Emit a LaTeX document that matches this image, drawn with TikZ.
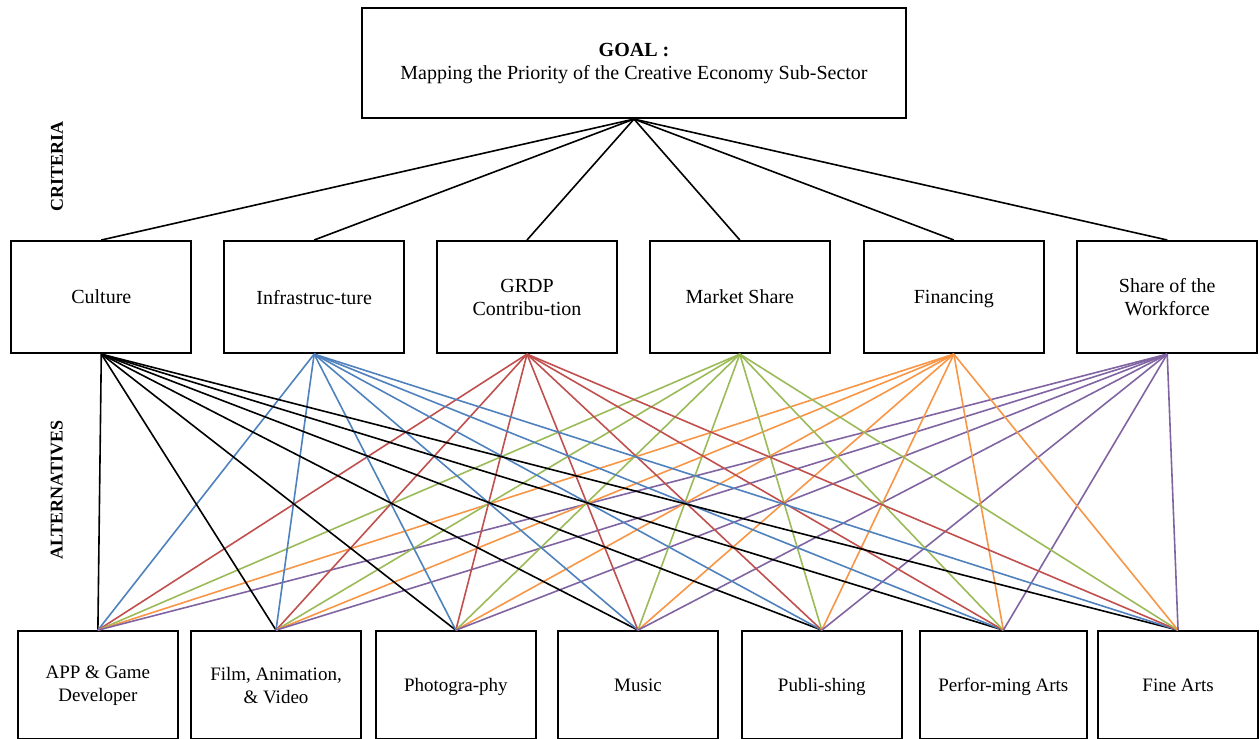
\documentclass[tikz,border=0pt]{standalone}
\usepackage{fontspec}
\setmainfont{Liberation Serif}
\usepackage{tikz}
\usetikzlibrary{positioning}
\usepackage{xcolor}
\definecolor{ahpBlue}{HTML}{4F81BD}
\definecolor{ahpRed}{HTML}{C0504D}
\definecolor{ahpGreen}{HTML}{9BBB59}
\definecolor{ahpOrange}{HTML}{F79646}
\definecolor{ahpPurple}{HTML}{8064A2}
\newcommand{\nodepth}[1]{\raisebox{0pt}[\height][0pt]{#1}}
\tikzset{
    goalbox/.style={rectangle, draw=black, line width=1pt, fill=white, minimum width=9.56cm, minimum height=1.93cm, align=center, font=\rmfamily\fontsize{10}{11.5}\selectfont},
    critbox/.style={rectangle, draw=black, line width=1pt, fill=white, minimum width=3.16cm, minimum height=1.97cm, align=center, font=\rmfamily\fontsize{10}{11.5}\selectfont},
    altbox/.style={rectangle, draw=black, line width=1pt, fill=white, minimum width=2.82cm, minimum height=1.9cm, align=center, font=\rmfamily\fontsize{9.5}{11.5}\selectfont},
    levellabel/.style={rotate=90, font=\rmfamily\fontsize{9}{10}\selectfont\bfseries},
    % connector styles
    link/.style={line width=0.8pt}
}

\begin{document}
\begin{tikzpicture}
    \clip (0,0) rectangle (22.14,-12.97);
    \useasboundingbox (0,0) rectangle (22.14,-12.97);

    % Level labels
    \node[levellabel] at (1.00,-2.93) (crit) {CRITERIA};
    \node[levellabel] at (1.00,-8.61) (alts) {ALTERNATIVES};

    % Goal
    \node[goalbox] at (11.14,-1.11) (goal) {\textbf{GOAL :}\\Mapping the Priority of the Creative Economy Sub-Sector};

    % Criteria
    \node[critbox] at (1.78,-5.22) (culture) {Culture};
    \node[critbox] at (5.52,-5.22) (infra) {Infrastruc-ture};
    \node[critbox] at (9.26,-5.22) (grdp) {GRDP\\Contribu-tion};
    \node[critbox] at (13.00,-5.22) (market) {Market Share};
    \node[critbox] at (16.76,-5.22) (financing) {\nodepth{Financing}};
    \node[critbox] at (20.51,-5.22) (workforce) {Share of the\\Workforce};

    % Alternatives
    \node[altbox] at (1.72,-12.04) (app) {APP \& Game\\Developer};
    \node[altbox, minimum width=3.0cm] at (4.85,-12.04) (film) {Film, Animation,\\\& Video};
    \node[altbox] at (8.01,-12.04) (photo) {\nodepth{Photogra-phy}};
    \node[altbox] at (11.21,-12.04) (music) {Music};
    \node[altbox] at (14.44,-12.04) (publish) {\nodepth{Publi-shing}};
    \node[altbox, minimum width=2.93cm] at (17.63,-12.04) (perform) {\nodepth{Perfor-ming Arts}};
    \node[altbox] at (20.70,-12.04) (fine) {Fine Arts};

    % Goal to criteria
    \foreach \c in {culture,infra,grdp,market,financing,workforce}
        \draw[link, black] (goal.south) -- (\c.north);

    % Criteria to alternatives
    \foreach \a in {app,film,photo,music,publish,perform,fine}{
        \draw[link, black] (culture.south) -- (\a.north);
        \draw[link, ahpBlue] (infra.south) -- (\a.north);
        \draw[link, ahpRed] (grdp.south) -- (\a.north);
        \draw[link, ahpGreen] (market.south) -- (\a.north);
        \draw[link, ahpOrange] (financing.south) -- (\a.north);
        \draw[link, ahpPurple] (workforce.south) -- (\a.north);
    }
\end{tikzpicture}
\end{document}
